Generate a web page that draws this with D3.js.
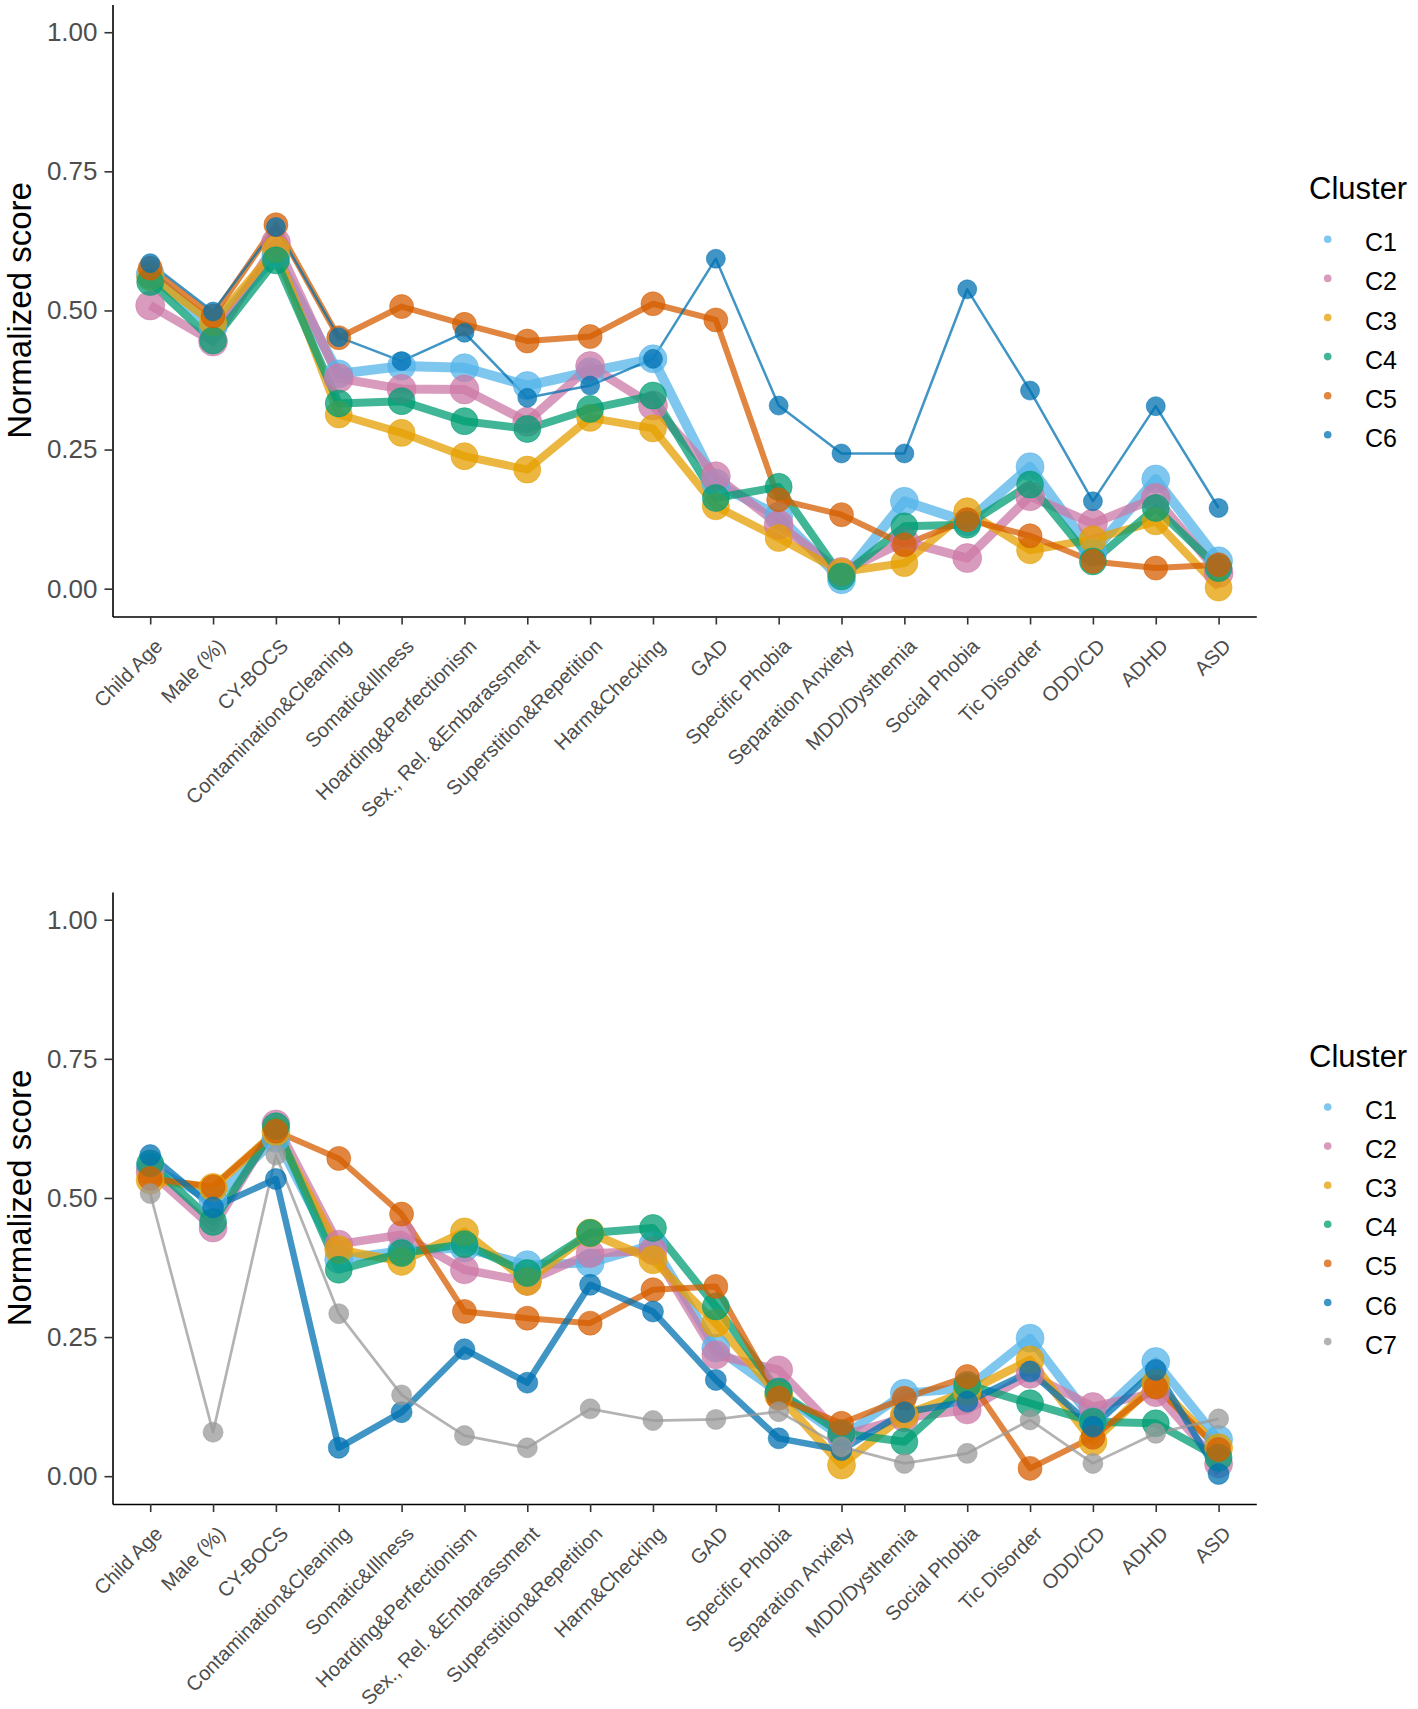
<!DOCTYPE html>
<html>
<head>
<meta charset="utf-8">
<script src="https://cdn.jsdelivr.net/npm/d3@7"></script>
<style>
  body { margin: 0; background: #fff; }
  svg { display: block; font-family: "Liberation Sans", Arial, sans-serif; }
</style>
</head>
<body>
<svg id="chart" width="1418" height="1709"></svg>
<script>
// categories on the x axis (same for both panels)
var categories = ["Child Age", "Male (%)", "CY-BOCS", "Contamination&Cleaning", "Somatic&Illness",
  "Hoarding&Perfectionism", "Sex., Rel. &Embarassment", "Superstition&Repetition", "Harm&Checking",
  "GAD", "Specific Phobia", "Separation Anxiety", "MDD/Dysthemia", "Social Phobia", "Tic Disorder",
  "ODD/CD", "ADHD", "ASD"]

var yTicks = [0, 0.25, 0.5, 0.75, 1]

// top panel: 6 clusters
var topClusters = ["C1", "C2", "C3", "C4", "C5", "C6"]
var topC1 = [0.565, 0.47, 0.60, 0.386, 0.40, 0.397, 0.365, 0.39, 0.413, 0.19, 0.13, 0.016, 0.157, 0.12, 0.219, 0.065, 0.197, 0.05]
var topC2 = [0.509, 0.444, 0.622, 0.378, 0.359, 0.358, 0.30, 0.40, 0.329, 0.202, 0.115, 0.03, 0.085, 0.055, 0.166, 0.117, 0.163, 0.028]
var topC3 = [0.56, 0.478, 0.61, 0.313, 0.28, 0.238, 0.214, 0.307, 0.288, 0.148, 0.091, 0.03, 0.046, 0.139, 0.069, 0.089, 0.121, 0.002]
var topC4 = [0.551, 0.446, 0.59, 0.333, 0.337, 0.301, 0.287, 0.323, 0.347, 0.163, 0.183, 0.022, 0.112, 0.115, 0.187, 0.049, 0.145, 0.037]
var topC5 = [0.576, 0.49, 0.654, 0.451, 0.507, 0.475, 0.445, 0.453, 0.512, 0.483, 0.16, 0.133, 0.079, 0.124, 0.095, 0.049, 0.037, 0.043]
var topC6 = [0.585, 0.498, 0.65, 0.452, 0.409, 0.46, 0.343, 0.365, 0.413, 0.593, 0.329, 0.243, 0.243, 0.538, 0.356, 0.157, 0.328, 0.145]

// bottom panel: 7 clusters
var botClusters = ["C1", "C2", "C3", "C4", "C5", "C6", "C7"]
var botC1 = [0.556, 0.496, 0.607, 0.39, 0.405, 0.41, 0.38, 0.383, 0.416, 0.23, 0.15, 0.07, 0.149, 0.158, 0.248, 0.1, 0.206, 0.066]
var botC2 = [0.547, 0.446, 0.633, 0.417, 0.434, 0.371, 0.35, 0.40, 0.405, 0.218, 0.191, 0.073, 0.105, 0.119, 0.183, 0.125, 0.15, 0.022]
var botC3 = [0.532, 0.519, 0.619, 0.407, 0.386, 0.439, 0.35, 0.437, 0.389, 0.275, 0.145, 0.02, 0.11, 0.152, 0.209, 0.062, 0.167, 0.051]
var botC4 = [0.562, 0.457, 0.629, 0.371, 0.401, 0.417, 0.365, 0.437, 0.446, 0.305, 0.152, 0.077, 0.062, 0.164, 0.131, 0.098, 0.095, 0.033]
var botC5 = [0.535, 0.52, 0.62, 0.571, 0.471, 0.296, 0.284, 0.275, 0.335, 0.341, 0.14, 0.095, 0.14, 0.179, 0.014, 0.07, 0.16, 0.048]
var botC6 = [0.577, 0.483, 0.534, 0.051, 0.115, 0.228, 0.168, 0.344, 0.296, 0.173, 0.068, 0.047, 0.115, 0.134, 0.188, 0.089, 0.191, 0.004]
var botC7 = [0.508, 0.079, 0.577, 0.292, 0.146, 0.073, 0.051, 0.121, 0.1, 0.102, 0.116, 0.053, 0.023, 0.041, 0.101, 0.023, 0.077, 0.103]

// styling (colour per cluster, line width / point radius per panel)
var colors = ["#56B4E9", "#CC79A7", "#E69F00", "#009E73", "#D55E00", "#0072B2", "#999999"]
var topLineW = [10, 9, 8, 8, 6, 2.5]
var topRad = [14, 14.5, 13.5, 13.5, 12, 9.5]
var botLineW = [9, 8.5, 8.5, 8, 6, 6.5, 2.7]
var botRad = [14, 14, 14, 13.5, 12, 10.5, 10]

var svg = d3.select("#chart")
var x = d3.scalePoint().domain(categories).range([112.5, 1256.3]).padding(0.6)

function drawPanel(top, bottom, clusters, series, lineW, rad, legendY) {
	var y = d3.scaleLinear().domain([-0.05, 1.05]).range([bottom, top])
	var g = svg.append("g")

	var line = d3.line()
		.x(function(d, i) { return x(categories[i]) })
		.y(function(d) { return y(d) })

	// lines first, then all the points on top
	g.selectAll(".ln")
		.data(series)
		.enter()
		.append("path")
		.attr("d", line)
		.attr("fill", "none")
		.attr("stroke", function(d, i) { return colors[i] })
		.attr("stroke-opacity", 0.75)
		.attr("stroke-width", function(d, i) { return lineW[i] })
		.attr("stroke-linejoin", "round")

	var pts = []
	series.forEach(function(s, c) {
		s.forEach(function(v, i) { pts.push({c: c, i: i, v: v}) })
	})

	g.selectAll(".pt")
		.data(pts)
		.enter()
		.append("circle")
		.attr("cx", function(d) { return x(categories[d.i]) })
		.attr("cy", function(d) { return y(d.v) })
		.attr("r", function(d) { return rad[d.c] })
		.attr("fill", function(d) { return colors[d.c] })
		.attr("fill-opacity", 0.75)
		.attr("stroke", function(d) { return colors[d.c] })
		.attr("stroke-opacity", 0.5)
		.attr("stroke-width", 1)

	// axes
	var ya = g.append("g")
		.attr("transform", "translate(112.5,0)")
		.call(d3.axisLeft(y).tickValues(yTicks).tickFormat(d3.format(".2f")).tickSize(8).tickPadding(7).tickSizeOuter(0))
	ya.selectAll("text").attr("font-size", 26).attr("fill", "#4D4D4D").attr("font-family", null)

	var xa = g.append("g")
		.attr("transform", "translate(0," + bottom + ")")
		.call(d3.axisBottom(x).tickSize(8).tickSizeOuter(0))
	xa.selectAll("text")
		.attr("x", 0).attr("y", 0).attr("dy", null)
		.attr("text-anchor", "end")
		.attr("transform", "translate(13,31) rotate(-45)")
		.attr("font-size", 20.2)
		.attr("fill", "#4D4D4D")
		.attr("font-family", null)

	g.selectAll(".domain").attr("stroke", "#000").attr("stroke-width", 1.6)
	g.selectAll(".tick line").attr("stroke", "#333").attr("stroke-width", 1.6)

	g.append("text")
		.attr("transform", "translate(31," + ((top + bottom) / 2) + ") rotate(-90)")
		.attr("text-anchor", "middle")
		.attr("font-size", 33)
		.attr("fill", "#000")
		.text("Normalized score")

	// legend
	var lg = g.append("g")
	lg.append("text")
		.attr("x", 1309).attr("y", legendY)
		.attr("font-size", 31)
		.attr("fill", "#000")
		.text("Cluster")

	var items = lg.selectAll(".item")
		.data(clusters)
		.enter()
		.append("g")
		.attr("transform", function(d, i) { return "translate(0," + (legendY + 40.3 + i * 39.1) + ")" })
	items.append("circle")
		.attr("cx", 1327.7).attr("cy", 0).attr("r", 3.8)
		.attr("fill", function(d, i) { return colors[i] })
		.attr("fill-opacity", 0.75)
	items.append("text")
		.attr("x", 1365).attr("y", 12)
		.attr("font-size", 25)
		.attr("fill", "#000")
		.text(function(d) { return d })
}

drawPanel(4.4, 616.5, topClusters, [topC1, topC2, topC3, topC4, topC5, topC6], topLineW, topRad, 199)
drawPanel(891.9, 1504, botClusters, [botC1, botC2, botC3, botC4, botC5, botC6, botC7], botLineW, botRad, 1066.7)
</script>
</body>
</html>
